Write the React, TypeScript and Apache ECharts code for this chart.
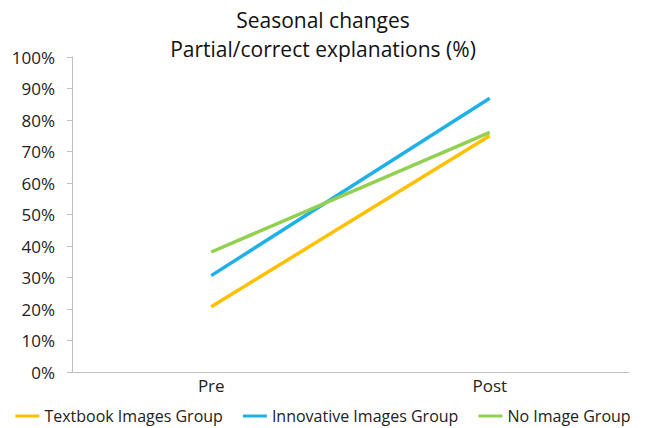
import React, { useEffect, useRef } from "react";
import * as echarts from "echarts";

const categories = ["Pre", "Post"];
const textbook = [20.7, 75.0];
const innovative = [30.6, 86.9];
const noImage = [38.1, 76.1];
const seriesNames = ["Textbook Images Group", "Innovative Images Group", "No Image Group"];
const colors = ["#FFC000", "#20B0E8", "#92D050"];

export default function App() {
  const ref = useRef<HTMLDivElement>(null);
  useEffect(() => {
    document.body.style.margin = "0";
    const chart = echarts.init(ref.current!, null, { renderer: "svg" });
    const font = "Open Sans, Noto Sans, sans-serif";
    const data = [textbook, innovative, noImage];
    chart.setOption({
      animation: false,
      title: {
        text: "Seasonal changes\nPartial/correct explanations (%)",
        left: "center",
        top: 0,
        textStyle: { fontFamily: font, fontSize: 21, fontWeight: "normal", color: "#111", lineHeight: 29 },
      },
      legend: {
        bottom: 4,
        left: "center",
        padding: 0,
        itemWidth: 24,
        itemHeight: 3,
        itemGap: 20,
        icon: "rect",
        textStyle: { fontFamily: font, fontSize: 16, color: "#222" },
        data: seriesNames,
      },
      grid: { left: 72, right: 17, top: 57, bottom: 56 },
      xAxis: {
        type: "category",
        data: categories,
        boundaryGap: true,
        axisLine: { lineStyle: { color: "#BFBFBF" } },
        axisTick: { show: false },
        axisLabel: { fontFamily: font, fontSize: 17, color: "#222", margin: 5 },
      },
      yAxis: {
        type: "value",
        min: 0,
        max: 100,
        interval: 10,
        axisLine: { show: true, lineStyle: { color: "#BFBFBF" } },
        axisTick: { show: true, inside: false, length: 5, lineStyle: { color: "#BFBFBF" } },
        splitLine: { show: false },
        axisLabel: { fontFamily: font, fontSize: 17, color: "#222", formatter: "{value}%", margin: 17 },
      },
      series: seriesNames.map((name, i) => ({
        name,
        type: "line",
        data: data[i],
        symbol: "none",
        lineStyle: { color: colors[i], width: 3.5 },
        itemStyle: { color: colors[i] },
      })),
    });
    return () => chart.dispose();
  }, []);
  return <div ref={ref} style={{ width: 646, height: 428 }} />;
}
